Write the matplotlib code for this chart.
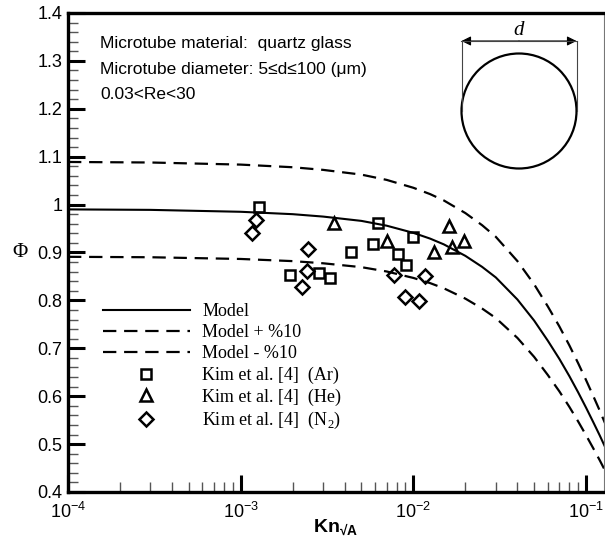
import numpy as np
import matplotlib
matplotlib.use("Agg")
from matplotlib import pyplot as plt
from matplotlib.patches import Circle
from matplotlib.lines import Line2D

plt.rcParams['font.family'] = ['Liberation Sans', 'DejaVu Sans']
plt.rcParams['mathtext.fontset'] = 'custom'
plt.rcParams['mathtext.rm'] = 'Liberation Sans'
plt.rcParams['mathtext.bf'] = 'Liberation Sans:bold'

# model curve
kn_model = [1e-4, 3e-4, 1e-3, 2e-3, 3e-3, 5e-3, 7e-3, 1e-2, 1.25e-2, 1.5e-2,
            2e-2, 2.5e-2, 3e-2, 4e-2, 5e-2, 6e-2, 7e-2, 8e-2, 9e-2, 0.1,
            0.11, 0.12, 0.13]
phi_model = [0.990, 0.989, 0.985, 0.980, 0.975, 0.966, 0.956, 0.941, 0.929, 0.917,
             0.893, 0.870, 0.848, 0.802, 0.758, 0.716, 0.678, 0.642, 0.608, 0.576,
             0.546, 0.518, 0.491]

# Kim et al. [4]
kn_ar = [1.28e-3, 1.93e-3, 2.83e-3, 3.3e-3, 4.35e-3, 5.81e-3, 6.21e-3, 8.11e-3, 9.06e-3, 1.0e-2]
phi_ar = [0.994, 0.853, 0.858, 0.846, 0.902, 0.917, 0.961, 0.897, 0.873, 0.932]

kn_he = [3.47e-3, 7.06e-3, 1.32e-2, 1.61e-2, 1.67e-2, 1.97e-2]
phi_he = [0.961, 0.925, 0.900, 0.955, 0.912, 0.923]

kn_n2 = [1.22e-3, 1.17e-3, 2.45e-3, 2.41e-3, 2.26e-3, 7.7e-3, 1.17e-2, 8.98e-3, 1.08e-2]
phi_n2 = [0.968, 0.941, 0.907, 0.861, 0.827, 0.852, 0.850, 0.808, 0.799]

info_lines = ["Microtube material:  quartz glass",
              "Microtube diameter: 5\u2264d\u2264100 (\u03bcm)",
              "0.03<Re<30"]

W, H = 605, 540
fig = plt.figure(figsize=(W / 100, H / 100), dpi=100)
x0, x1, y0, y1 = 68, 604, 13, 492
ax = fig.add_axes([x0 / W, 1 - y1 / H, (x1 - x0) / W, (y1 - y0) / H])

kn_model = np.array(kn_model)
phi_model = np.array(phi_model)
dash = (6, 3.5)
ax.plot(kn_model, phi_model, color='black', lw=1.5, label='Model')
ax.plot(kn_model, phi_model * 1.1, color='black', lw=1.6, ls=(0, dash), label='Model + %10')
ax.plot(kn_model, phi_model * 0.9, color='black', lw=1.6, ls=(0, dash), label='Model - %10')

mk = dict(ls='none', mfc='none', mec='black', mew=1.8, color='black')
ax.plot(kn_ar, phi_ar, marker='s', ms=7, label='Kim et al. [4]  (Ar)', **mk)
ax.plot(kn_he, phi_he, marker='^', ms=8, label='Kim et al. [4]  (He)', **mk)
ax.plot(kn_n2, phi_n2, marker='D', ms=7, label='Kim et al. [4]  (N$_\\mathdefault{2}$)', **mk)

ax.set_xscale('log')
ax.set_xlim(1e-4, 0.127)
ax.set_ylim(0.4, 1.4)
ax.set_yticks(np.arange(0.4, 1.41, 0.1))
ax.set_yticklabels(['0.4', '0.5', '0.6', '0.7', '0.8', '0.9', '1', '1.1', '1.2', '1.3', '1.4'])
ax.set_yticks(np.arange(0.4, 1.4, 0.02), minor=True)

ax.tick_params(which='major', direction='in', length=12, width=2.2, labelsize=13,
               top=False, right=False)
ax.tick_params(axis='y', which='major', pad=4)
ax.tick_params(axis='x', which='major', pad=7)
ax.tick_params(which='minor', direction='in', length=7, width=1.0, color='#555555',
               top=False, right=False)

for s in ['left', 'bottom', 'top']:
    ax.spines[s].set_linewidth(2.4)
ax.spines['right'].set_linewidth(0.8)
ax.spines['right'].set_color('#777777')

ax.set_xlabel('Kn$_\\mathdefault{\u221aA}$', fontsize=14, fontweight='bold', labelpad=-3)
ax.set_ylabel('\u03a6', family='Liberation Serif', fontsize=15, rotation=0, va='center')
ax.yaxis.set_label_coords(-0.09, 0.5)

for i, t in enumerate(info_lines):
    ax.text(0.06, 0.937 - i * 0.054, t, transform=ax.transAxes, fontsize=12.5, va='center')

leg = ax.legend(loc='upper left', bbox_to_anchor=(0.052, 0.41), frameon=False,
                prop={'family': 'Liberation Serif', 'size': 13},
                handlelength=4.8, handletextpad=0.7, labelspacing=0.24,
                borderaxespad=0)

# tube cross-section sketch
cx, cy, r = 519, 111, 57.5
ins = fig.add_axes([(cx - 70) / W, 1 - (cy + 70) / H, 140 / W, 140 / H])
ins.set_xlim(cx - 70, cx + 70)
ins.set_ylim(cy + 70, cy - 70)
ins.set_aspect('equal')
ins.axis('off')
ins.add_patch(Circle((cx, cy), r, fill=False, ec='black', lw=1.6))
ins.plot([cx - r, cx - r], [cy - 72, cy], color='#444444', lw=0.8)
ins.plot([cx + r, cx + r], [cy - 72, cy], color='#444444', lw=0.8)
fig.add_artist(Line2D([(cx - r) / W, (cx + r) / W], [1 - 41 / H, 1 - 41 / H], color='#444444', lw=0.8))
ax.annotate('', xy=((cx - r) / W, 1 - 41 / H), xytext=(cx / W, 1 - 41 / H),
            xycoords='figure fraction', textcoords='figure fraction',
            arrowprops=dict(arrowstyle='-|>', color='black', lw=0.8, mutation_scale=14, shrinkA=0, shrinkB=0))
ax.annotate('', xy=((cx + r) / W, 1 - 41 / H), xytext=(cx / W, 1 - 41 / H),
            xycoords='figure fraction', textcoords='figure fraction',
            arrowprops=dict(arrowstyle='-|>', color='black', lw=0.8, mutation_scale=14, shrinkA=0, shrinkB=0))
fig.text(cx / W, 1 - 31 / H, 'd', family='Liberation Serif', style='italic', fontsize=15,
         ha='center', va='center')

fig.savefig('out.png', dpi=100)
